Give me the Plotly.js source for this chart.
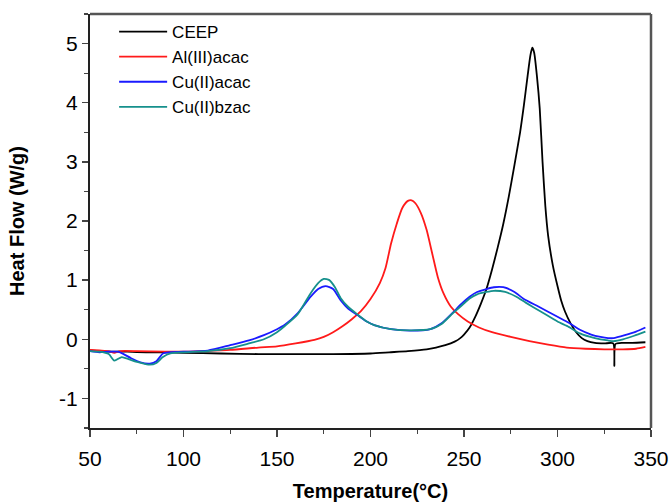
<!DOCTYPE html>
<html>
<head>
<meta charset="utf-8">
<script src="https://cdn.plot.ly/plotly-3.0.1.min.js"></script>
<style>html,body{margin:0;padding:0;background:#fff;}#chart{width:670px;height:502px;}</style>
</head>
<body>
<div id="chart"></div>
<script>
var seriesNames = ["CEEP", "Al(III)acac", "Cu(II)acac", "Cu(II)bzac"];
var seriesColors = ["#000000", "#ff1a1a", "#1a1aff", "#16908c"];

var xTickVals = [50, 100, 150, 200, 250, 300, 350];
var xTickText = ["50", "100", "150", "200", "250", "300", "350"];
var yTickVals = [-1, 0, 1, 2, 3, 4, 5];
var yTickText = ["-1", "0", "1", "2", "3", "4", "5"];

var ceepT = [50,55,60,70,80,90,100,120,140,160,180,200,210,220,230,235,240,245,248,250,253,256,259,262,265,268,271,274,277,280,282,284,285.5,286.5,287.5,289,290.5,292,293.5,295,297.5,300,302,304,307,310,313,316,320,325,329.8,330.4,331,335,340,347];
var ceepV = [-0.19,-0.2,-0.21,-0.21,-0.22,-0.22,-0.23,-0.24,-0.25,-0.25,-0.25,-0.24,-0.22,-0.2,-0.17,-0.14,-0.1,-0.04,0.02,0.08,0.2,0.38,0.6,0.85,1.18,1.55,1.95,2.42,2.95,3.5,3.95,4.45,4.8,4.93,4.85,4.45,3.9,3.0,2.25,1.75,1.25,0.9,0.65,0.47,0.27,0.12,0.02,-0.03,-0.06,-0.07,-0.07,-0.45,-0.08,-0.06,-0.06,-0.05];

var alT = [50,55,60,63,66,75,90,100,110,125,140,150,160,170,175,180,185,190,195,200,205,208,211,214,217,220,222,224,227,230,233,236,239,243,247,252,258,265,275,285,295,305,315,325,335,342,347];
var alV = [-0.18,-0.19,-0.2,-0.23,-0.2,-0.2,-0.21,-0.21,-0.2,-0.18,-0.14,-0.12,-0.07,-0.01,0.04,0.12,0.22,0.34,0.48,0.68,0.95,1.2,1.62,1.95,2.22,2.34,2.35,2.3,2.13,1.85,1.45,1.05,0.78,0.55,0.42,0.3,0.2,0.12,0.04,-0.03,-0.09,-0.14,-0.16,-0.17,-0.17,-0.16,-0.13];

var cuAcT = [50,55,60,65,68,72,77,82,85.5,89,92,100,113,125,135,143,150,154,161,168,172,176,180,184,188,193,198,202,211,221,232,238,244,248,253,257,262,266,271,277,282,290,300,306,312,318,323,327,330,336,342,347];
var cuAcV = [-0.2,-0.22,-0.21,-0.21,-0.25,-0.32,-0.39,-0.41,-0.37,-0.24,-0.22,-0.21,-0.19,-0.1,-0.02,0.07,0.17,0.24,0.44,0.72,0.85,0.9,0.85,0.66,0.52,0.41,0.3,0.24,0.17,0.145,0.17,0.27,0.45,0.58,0.72,0.8,0.85,0.88,0.88,0.8,0.68,0.55,0.38,0.28,0.16,0.08,0.04,0.02,0.02,0.07,0.13,0.2];

var cuBzT = [50,55,60,63,67,71,75,82,85.5,89,93,100,113,125,135,143,150,154,161,168,172,175,178,181,184,188,193,198,202,211,222,232,238,244,248,253,257,262,266,272,278,283,291,300,306,312,320,327,330,335,341,347];
var cuBzV = [-0.2,-0.21,-0.25,-0.36,-0.3,-0.34,-0.38,-0.43,-0.4,-0.3,-0.24,-0.22,-0.2,-0.15,-0.07,0.0,0.12,0.22,0.42,0.78,0.95,1.02,1.0,0.88,0.7,0.55,0.42,0.3,0.24,0.17,0.15,0.17,0.26,0.44,0.55,0.69,0.76,0.8,0.82,0.8,0.72,0.62,0.47,0.3,0.21,0.1,0.02,-0.02,-0.03,0.0,0.06,0.13];

var xs = [ceepT, alT, cuAcT, cuBzT];
var ys = [ceepV, alV, cuAcV, cuBzV];

var traces = xs.map(function(x, i){
  return {
    x: x, y: ys[i], type: 'scatter', mode: 'lines', name: seriesNames[i],
    line: {color: seriesColors[i], width: 1.8, shape: 'spline', smoothing: 0.6}
  };
});

var layout = {
  width: 670, height: 502,
  margin: {l: 90, r: 19, t: 14, b: 74},
  paper_bgcolor: '#fff', plot_bgcolor: '#fff',
  font: {family: 'Liberation Sans, Arial, sans-serif', color: '#000'},
  showlegend: true,
  legend: {x: 0.043, y: 1.0, xanchor: 'left', yanchor: 'top', bgcolor: 'rgba(0,0,0,0)',
           font: {size: 17}, tracegroupgap: 0, itemwidth: 48},
  xaxis: {
    range: [50, 350], tickvals: xTickVals, ticktext: xTickText, ticks: 'outside', ticklen: 7, tickwidth: 1.5,
    ticklabelstandoff: 4,
    showgrid: false, zeroline: false, showline: true, linecolor: '#222', linewidth: 2,
    tickfont: {size: 21}, minor: {ticks: 'outside', dtick: 25, ticklen: 4, tickwidth: 1.2},
    title: {text: '<b>Temperature(°C)</b>', font: {size: 20}, standoff: 16}
  },
  yaxis: {
    range: [-1.5, 5.5], tickvals: yTickVals, ticktext: yTickText, ticks: 'outside', ticklen: 6, tickwidth: 1.5,
    showgrid: false, zeroline: false, showline: true, linecolor: '#222', linewidth: 2,
    tickfont: {size: 21}, minor: {ticks: 'outside', dtick: 0.5, ticklen: 4, tickwidth: 1.2},
    title: {text: '<b>Heat Flow (W/g)</b>', font: {size: 20}, standoff: 29}
  },
  shapes: [
    {type: 'line', xref: 'paper', yref: 'paper', x0: 0, x1: 1, y0: 1, y1: 1, line: {color: '#555', width: 2.5}},
    {type: 'line', xref: 'paper', yref: 'paper', x0: 1, x1: 1, y0: 0, y1: 1, line: {color: '#555', width: 2.5}}
  ]
};

Plotly.newPlot('chart', traces, layout, {displayModeBar: false, staticPlot: true});
</script>
</body>
</html>
